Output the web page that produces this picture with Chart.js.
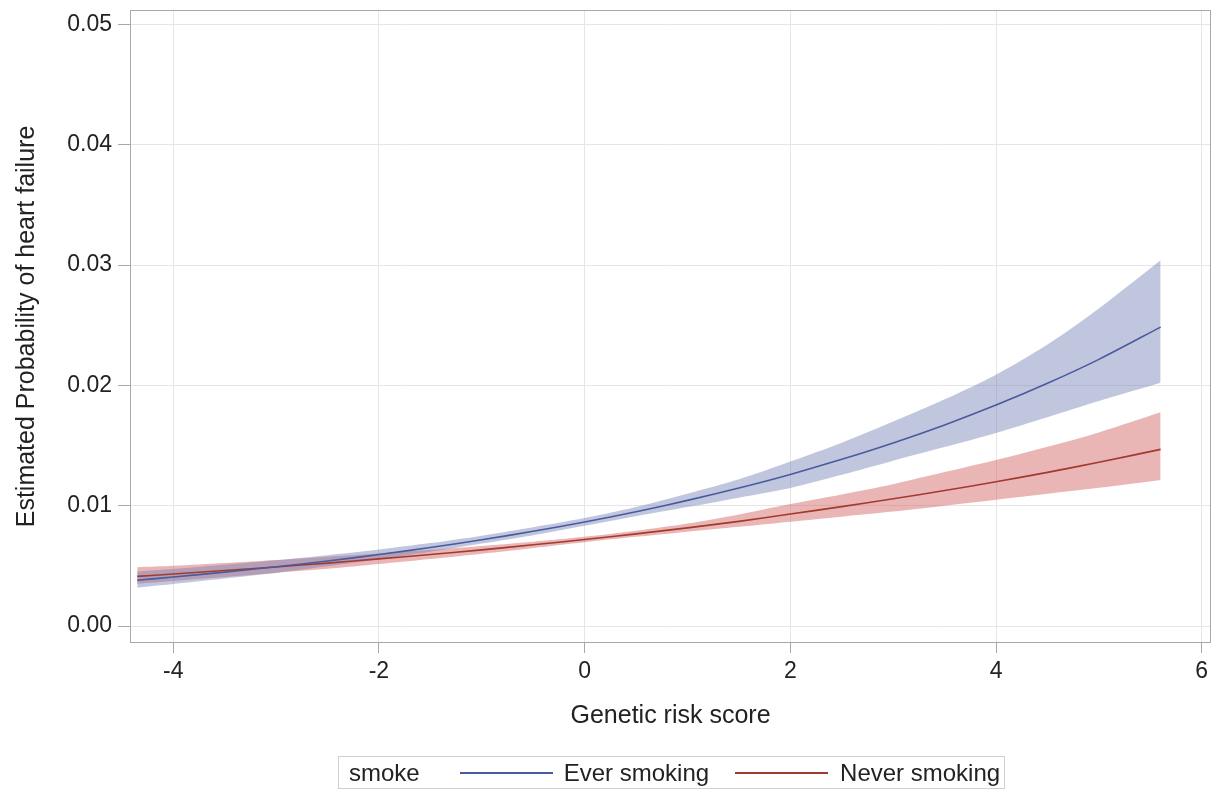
<!DOCTYPE html>
<html>
<head>
<meta charset="utf-8">
<script src="https://cdn.jsdelivr.net/npm/chart.js@4.4.1/dist/chart.umd.min.js"></script>
<style>
  body { margin: 0; background: #fff; font-family: "Liberation Sans", Arial, sans-serif; }
  #wrap { position: relative; width: 1217px; height: 790px; }
  #legend {
    position: absolute; left: 338px; top: 756px; width: 665px; height: 31px;
    border: 1px solid #d0d0d0; display: flex; align-items: center;
    font-size: 24px; color: #222; white-space: nowrap;
  }
  #legend .sw { height: 2px; width: 93px; }
</style>
</head>
<body>
<div id="wrap">
  <canvas id="riskChart" width="1217" height="790"></canvas>
  <div id="legend">
    <span style="margin-left:10px">smoke</span>
    <span class="sw" style="margin-left:40px;background:#4a5a9e"></span>
    <span style="margin-left:11px">Ever smoking</span>
    <span class="sw" style="margin-left:26px;background:#a33a2e"></span>
    <span style="margin-left:12px">Never smoking</span>
  </div>
</div>
<script>
var scores = [-4.35, -4, -3.5, -3, -2.5, -2, -1.5, -1, -0.5, 0, 0.5, 1, 1.5, 2, 2.5, 3, 3.5, 4, 4.5, 5, 5.6];

var everMid   = [0.00382, 0.00408, 0.00449, 0.00493, 0.00541, 0.00595, 0.00653, 0.00718, 0.00788, 0.00866, 0.00951, 0.01045, 0.01148, 0.01261, 0.01386, 0.01522, 0.01672, 0.01837, 0.02018, 0.02217, 0.02485];
var everUpper = [0.00455, 0.00475, 0.00510, 0.00548, 0.00590, 0.00637, 0.00690, 0.00752, 0.00822, 0.00898, 0.00990, 0.01100, 0.01220, 0.01368, 0.01525, 0.01700, 0.01885, 0.02090, 0.02340, 0.02640, 0.03040];
var everLower = [0.00320, 0.00350, 0.00395, 0.00443, 0.00497, 0.00555, 0.00618, 0.00686, 0.00756, 0.00835, 0.00914, 0.00990, 0.01068, 0.01148, 0.01258, 0.01375, 0.01488, 0.01605, 0.01735, 0.01870, 0.02022];

var neverMid   = [0.00414, 0.00433, 0.00462, 0.00492, 0.00524, 0.00559, 0.00595, 0.00634, 0.00676, 0.00720, 0.00767, 0.00817, 0.00871, 0.00932, 0.00993, 0.01058, 0.01127, 0.01200, 0.01278, 0.01362, 0.01469];
var neverUpper = [0.00490, 0.00502, 0.00525, 0.00550, 0.00577, 0.00604, 0.00634, 0.00667, 0.00702, 0.00742, 0.00792, 0.00852, 0.00928, 0.01015, 0.01095, 0.01180, 0.01280, 0.01380, 0.01490, 0.01610, 0.01777];
var neverLower = [0.00352, 0.00375, 0.00408, 0.00442, 0.00476, 0.00516, 0.00558, 0.00602, 0.00650, 0.00698, 0.00742, 0.00785, 0.00825, 0.00868, 0.00910, 0.00952, 0.01000, 0.01050, 0.01100, 0.01150, 0.01215];

var xTicks = [-4, -2, 0, 2, 4, 6];
var yTicks = [0, 0.01, 0.02, 0.03, 0.04, 0.05];

function pts(ys) {
    return scores.map(function (x, i) { return { x: x, y: ys[i] }; });
}

var blue = '#4a5a9e', red = '#a33a2e';
var blueFill = 'rgba(111,126,179,0.44)', redFill = 'rgba(208,91,91,0.45)';

// draws the full box round the plot area
var frame = {
    id: 'frame',
    afterDraw: function (chart) {
        var a = chart.chartArea, c = chart.ctx;
        c.save();
        c.strokeStyle = '#a8a8a8';
        c.lineWidth = 1;
        c.strokeRect(Math.round(a.left) + 0.5, Math.round(a.top) + 0.5,
            Math.round(a.right - a.left) - 1, Math.round(a.bottom - a.top) - 1);
        c.restore();
    }
};

var band = { borderWidth: 0, pointRadius: 0, tension: 0.3, order: 2 };
var line = { borderWidth: 1.6, pointRadius: 0, tension: 0.3, fill: false, order: 1 };

var ctx = document.getElementById('riskChart');
var myChart = new Chart(ctx, {
    type: 'line',
    data: {
        datasets: [
            Object.assign({ label: 'ever upper', data: pts(everUpper), backgroundColor: blueFill, fill: '+1' }, band),
            Object.assign({ label: 'ever lower', data: pts(everLower), backgroundColor: blueFill, fill: false }, band),
            Object.assign({ label: 'never upper', data: pts(neverUpper), backgroundColor: redFill, fill: '+1' }, band),
            Object.assign({ label: 'never lower', data: pts(neverLower), backgroundColor: redFill, fill: false }, band),
            Object.assign({ label: 'Ever smoking', data: pts(everMid), borderColor: blue }, line),
            Object.assign({ label: 'Never smoking', data: pts(neverMid), borderColor: red }, line)
        ]
    },
    options: {
        responsive: false,
        animation: false,
        devicePixelRatio: 1,
        layout: { padding: { left: 0, top: 10, right: 6, bottom: 37 } },
        plugins: { legend: { display: false }, tooltip: { enabled: false } },
        scales: {
            x: {
                type: 'linear', min: -4.42, max: 6.09,
                afterBuildTicks: function (s) { s.ticks = xTicks.map(function (v) { return { value: v }; }); },
                afterFit: function (s) { s.height = 110; s.paddingLeft = 0; s.paddingRight = 0; },
                grid: { color: '#e6e6e6', tickColor: '#a8a8a8', tickLength: 10 },
                border: { display: false },
                ticks: { color: '#222', padding: 5, font: { family: 'Liberation Sans', size: 23 }, maxRotation: 0 },
                title: { display: true, text: 'Genetic risk score', color: '#222',
                         font: { family: 'Liberation Sans', size: 25 }, padding: { top: 0, bottom: 22 } }
            },
            y: {
                min: -0.0014, max: 0.0512,
                afterBuildTicks: function (s) { s.ticks = yTicks.map(function (v) { return { value: v }; }); },
                afterFit: function (s) { s.width = 130; s.paddingTop = 0; s.paddingBottom = 0; },
                grid: { color: '#e6e6e6', tickColor: '#a8a8a8', tickLength: 12 },
                border: { display: false },
                ticks: { color: '#222', padding: 6, font: { family: 'Liberation Sans', size: 23 },
                         callback: function (v) { return v.toFixed(2); } },
                title: { display: true, text: 'Estimated Probability of heart failure', color: '#222',
                         font: { family: 'Liberation Sans', size: 25 }, padding: { top: 12, bottom: 0 } }
            }
        }
    },
    plugins: [frame]
});
</script>
</body>
</html>
